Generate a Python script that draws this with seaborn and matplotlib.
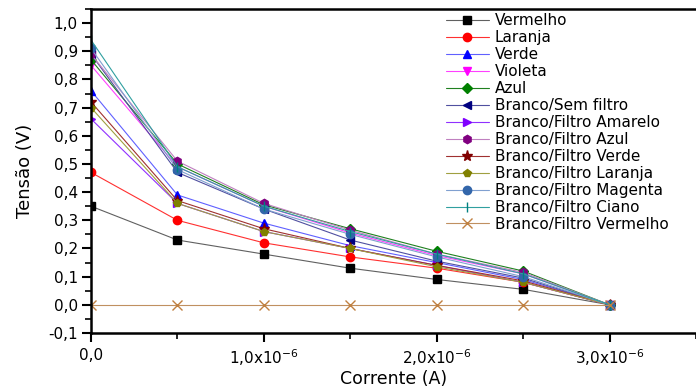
import numpy as np
import pandas as pd
import matplotlib
matplotlib.use("Agg")
import matplotlib.pyplot as plt
from matplotlib.ticker import FuncFormatter, MultipleLocator
import seaborn as sns

# Dados (corrente em A, tensão em V)
corrente = [0.0, 0.5e-6, 1.0e-6, 1.5e-6, 2.0e-6, 2.5e-6, 3.0e-6]

vermelho = [0.35, 0.23, 0.18, 0.13, 0.09, 0.055, 0.0]
laranja = [0.47, 0.30, 0.22, 0.17, 0.13, 0.08, 0.0]
verde = [0.76, 0.39, 0.29, 0.21, 0.15, 0.09, 0.0]
violeta = [0.85, 0.49, 0.35, 0.255, 0.175, 0.11, 0.0]
azul = [0.87, 0.50, 0.355, 0.27, 0.19, 0.12, 0.0]
sem_filtro = [0.89, 0.47, 0.34, 0.23, 0.155, 0.095, 0.0]
filtro_amarelo = [0.66, 0.36, 0.26, 0.20, 0.14, 0.08, 0.0]
filtro_azul = [0.89, 0.51, 0.36, 0.265, 0.18, 0.115, 0.0]
filtro_verde = [0.72, 0.37, 0.27, 0.20, 0.14, 0.085, 0.0]
filtro_laranja = [0.70, 0.36, 0.26, 0.20, 0.135, 0.08, 0.0]
filtro_magenta = [0.91, 0.48, 0.34, 0.25, 0.17, 0.10, 0.0]
filtro_ciano = [0.94, 0.49, 0.35, 0.26, 0.18, 0.11, 0.0]
filtro_vermelho = [0.0, 0.0, 0.0, 0.0, 0.0, 0.0, 0.0]

nomes = ["Vermelho", "Laranja", "Verde", "Violeta", "Azul", "Branco/Sem filtro",
         "Branco/Filtro Amarelo", "Branco/Filtro Azul", "Branco/Filtro Verde",
         "Branco/Filtro Laranja", "Branco/Filtro Magenta", "Branco/Filtro Ciano",
         "Branco/Filtro Vermelho"]
series = [vermelho, laranja, verde, violeta, azul, sem_filtro, filtro_amarelo,
          filtro_azul, filtro_verde, filtro_laranja, filtro_magenta, filtro_ciano,
          filtro_vermelho]

# estilo de cada curva: (cor do marcador, cor da linha, marcador)
estilos = [
    ("#000000", "#606060", "s"),
    ("#ff0000", "#ff3030", "o"),
    ("#0000ff", "#6060ff", "^"),
    ("#ff00ff", "#ff40ff", "v"),
    ("#008000", "#208020", "D"),
    ("#000080", "#5050a0", "<"),
    ("#8000ff", "#9030ff", ">"),
    ("#800080", "#c080c0", "h"),
    ("#800000", "#a03030", "*"),
    ("#808000", "#a0a040", "p"),
    ("#3366aa", "#80a0d0", "o"),
    ("#008080", "#30a0a0", "|"),
    ("#c08040", "#c09060", "x"),
]

sns.set_theme(style="ticks")
plt.rcParams["font.family"] = ["DejaVu Sans"]
plt.rcParams["text.color"] = "black"
plt.rcParams["axes.labelcolor"] = "black"

fig = plt.figure(figsize=(6.96, 3.90), dpi=100)
ax = fig.add_axes([91 / 696, 1 - 333 / 390, 1 - 91 / 696, (333 - 9) / 390])

for nome, valores, (cm, cl, mk) in zip(nomes, series, estilos):
    tam = 6
    if mk == "*":
        tam = 8
    elif mk == "D":
        tam = 5
    elif mk in ("|", "x"):
        tam = 7.5
    sns.lineplot(x=corrente, y=valores, ax=ax, color=cl, linewidth=0.8,
                 marker=mk, markersize=tam, markerfacecolor=cm,
                 markeredgecolor=cm, markeredgewidth=1.0, label=nome)

ax.set_xlim(0, 3.5e-6)
ax.set_ylim(-0.1, 1.05)
ax.set_xticks([0, 1e-6, 2e-6, 3e-6])
ax.xaxis.set_minor_locator(MultipleLocator(0.5e-6))
ax.yaxis.set_major_locator(MultipleLocator(0.1))
ax.yaxis.set_minor_locator(MultipleLocator(0.05))


def fmt_x(v, pos):
    m = v / 1e-6
    if abs(m) < 1e-9:
        return "0,0"
    return ("%.1f" % m).replace(".", ",") + "x10$^{-6}$"


ax.xaxis.set_major_formatter(FuncFormatter(fmt_x))
ax.yaxis.set_major_formatter(FuncFormatter(lambda v, p: ("%.1f" % v).replace(".", ",")))

for s in ["left", "bottom", "top"]:
    ax.spines[s].set_linewidth(1.8)
    ax.spines[s].set_color("black")
ax.spines["right"].set_visible(False)
ax.tick_params(which="major", length=6.5, width=1.5, labelsize=11, colors="black", pad=3)
ax.tick_params(which="minor", length=4, width=1.2, colors="black")
ax.tick_params(axis="x", which="major", pad=4)
ax.tick_params(axis="both", which="both", direction="out")

ax.set_xlabel("Corrente (A)", fontsize=12.5, labelpad=1, color="black")
ax.set_ylabel("Tensão (V)", fontsize=13, labelpad=10, color="black")

leg = ax.legend(loc="upper left", bbox_to_anchor=(446 / 696, 1 - 13 / 390),
                bbox_transform=fig.transFigure, frameon=False, fontsize=11,
                handlelength=2.8, handletextpad=0.4, labelspacing=0.13,
                borderpad=0, borderaxespad=0, labelcolor="black")

fig.savefig("out.png", dpi=100)
